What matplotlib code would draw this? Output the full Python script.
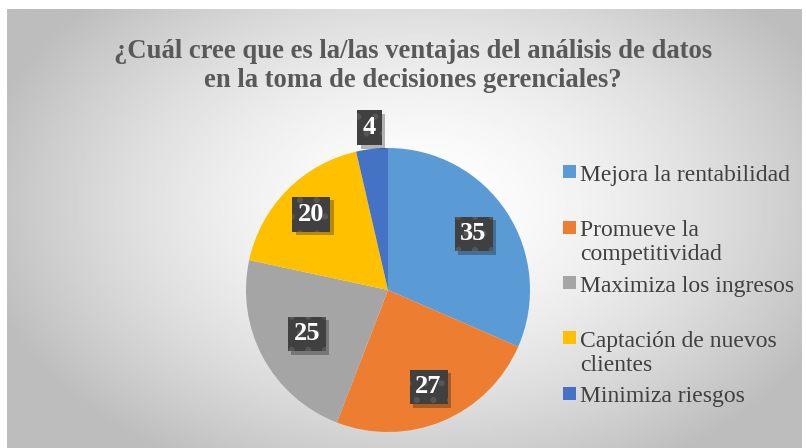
import numpy as np
import matplotlib
matplotlib.use("Agg")
import matplotlib.pyplot as plt
from matplotlib.patches import Rectangle
import matplotlib.patheffects as pe

title = "¿Cuál cree que es la/las ventajas del análisis de datos\nen la toma de decisiones gerenciales?"
categories = ["Mejora la rentabilidad", "Promueve la\ncompetitividad", "Maximiza los ingresos",
              "Captación de nuevos\nclientes", "Minimiza riesgos"]
values = [35, 27, 25, 20, 4]
colors = ["#5B9BD5", "#ED7D31", "#A5A5A5", "#FFC000", "#4472C4"]
label_radius = [0.72, 0.74, 0.65, 0.76, 1.15]


class BoxShadow(pe.AbstractPathEffect):
    def __init__(self, offset=(2.5, -2.5), alpha=0.28):
        super().__init__(offset)
        self._alpha = alpha

    def draw_path(self, renderer, gc, tpath, affine, rgbFace):
        gc0 = renderer.new_gc()
        gc0.copy_properties(gc)
        gc0.set_hatch(None)
        gc0.set_linewidth(0)
        gc0.set_alpha(self._alpha)
        renderer.draw_path(gc0, tpath, affine + self._offset_transform(renderer), (0, 0, 0))
        gc0.restore()


W, H = 806, 448
fig = plt.figure(figsize=(W / 100, H / 100), dpi=100)
fig.patch.set_facecolor("white")
plt.rcParams["hatch.linewidth"] = 2.0

# background gradient panel
bg = fig.add_axes([7 / W, 0, (802 - 7) / W, (H - 9) / H])
yy, xx = np.mgrid[0:1:300j, 0:1:500j]
r = np.sqrt(((xx - 0.52) / 0.62) ** 2 + ((yy - 0.45) / 0.75) ** 2)
val = np.clip(1.0 - 0.30 * r ** 1.6, 0.74, 1.0)
bg.imshow(val, cmap="gray", vmin=0, vmax=1, aspect="auto", extent=[0, 1, 0, 1], origin="upper")
bg.set_axis_off()

serif = ["Liberation Serif", "DejaVu Serif"]

fig.text(413 / W, 1 - 66 / H, title, ha="center", va="center", fontsize=19.2,
         fontweight="bold", family=serif, color="#595959", linespacing=1.25)

# pie axes: center (388,290), r=142
R = 142
ax = fig.add_axes([(388 - R) / W, (H - 290 - R) / H, 2 * R / W, 2 * R / H])
wedges, _ = ax.pie(values, colors=colors, startangle=90, counterclock=False,
                   wedgeprops=dict(edgecolor="none", linewidth=0), radius=1.0)
ax.set_xlim(-1, 1)
ax.set_ylim(-1, 1)
ax.set_aspect("auto")
ax.set_axis_off()

for w, v, lr in zip(wedges, values, label_radius):
    ang = np.deg2rad((w.theta1 + w.theta2) / 2)
    x, y = lr * np.cos(ang), lr * np.sin(ang)
    t = ax.text(x, y, str(v), ha="center", va="center", fontsize=19, fontweight="bold",
                family=serif, color="white", zorder=5,
                bbox=dict(boxstyle="square,pad=0.22", fc="#404040", ec="#565656",
                          lw=0, hatch="."))
    t.get_bbox_patch().set_path_effects([BoxShadow(), pe.Normal()])

# legend
y0 = 172
step = 55.3
for i, (lab, c) in enumerate(zip(categories, colors)):
    yc = y0 + i * step
    fig.patches.append(Rectangle((563 / W, 1 - (yc + 6.5) / H), 13 / W, 13 / H,
                                 transform=fig.transFigure, fc=c, ec="none"))
    fig.text(580 / W, 1 - (yc - 7) / H, lab, ha="left", va="top", fontsize=17,
             family=serif, color="#404040", linespacing=1.18)

fig.savefig("out.png", dpi=100)
